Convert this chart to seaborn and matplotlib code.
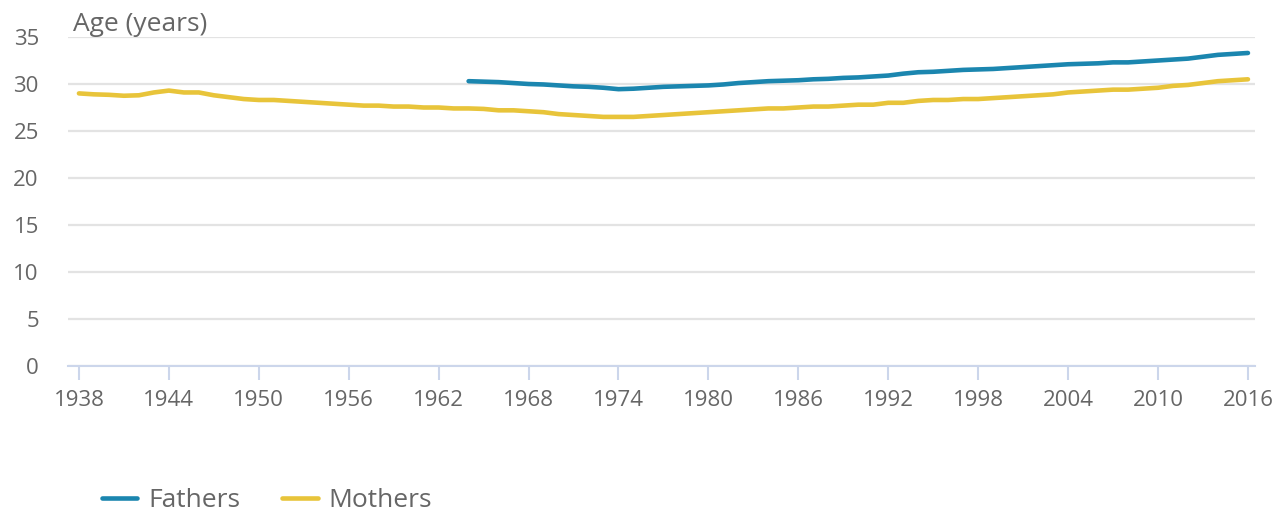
import numpy as np
import pandas as pd
import matplotlib
matplotlib.use("Agg")
import matplotlib.pyplot as plt
import seaborn as sns

# ── Data ─────────────────────────────────────────────────────────────────────
MOTHER_YEARS = list(range(1938, 2017))
MOTHER_AGE = [
    29.0, 28.9, 28.85, 28.75, 28.8, 29.1, 29.3, 29.1, 29.1, 28.8,   # 1938-47
    28.6, 28.4, 28.3, 28.3, 28.2, 28.1, 28.0, 27.9, 27.8, 27.7,     # 1948-57
    27.7, 27.6, 27.6, 27.5, 27.5, 27.4, 27.4, 27.35, 27.2, 27.2,    # 1958-67
    27.1, 27.0, 26.8, 26.7, 26.6, 26.5, 26.5, 26.5, 26.6, 26.7,     # 1968-77
    26.8, 26.9, 27.0, 27.1, 27.2, 27.3, 27.4, 27.4, 27.5, 27.6,     # 1978-87
    27.6, 27.7, 27.8, 27.8, 28.0, 28.0, 28.2, 28.3, 28.3, 28.4,     # 1988-97
    28.4, 28.5, 28.6, 28.7, 28.8, 28.9, 29.1, 29.2, 29.3, 29.4,     # 1998-2007
    29.4, 29.5, 29.6, 29.8, 29.9, 30.1, 30.3, 30.4, 30.5,           # 2008-16
]

FATHER_YEARS = list(range(1964, 2017))
FATHER_AGE = [
    30.3, 30.25, 30.2, 30.1, 30.0, 29.95, 29.85, 29.75, 29.7, 29.6,  # 1964-73
    29.45, 29.5, 29.6, 29.7, 29.75, 29.8, 29.85, 29.95, 30.1, 30.2,  # 1974-83
    30.3, 30.35, 30.4, 30.5, 30.55, 30.65, 30.7, 30.8, 30.9, 31.1,   # 1984-93
    31.25, 31.3, 31.4, 31.5, 31.55, 31.6, 31.7, 31.8, 31.9, 32.0,    # 1994-2003
    32.1, 32.15, 32.2, 32.3, 32.3, 32.4, 32.5, 32.6, 32.7, 32.9,     # 2004-13
    33.1, 33.2, 33.3,                                                # 2014-16
]

X_TICKS = list(range(1938, 2017, 6))
Y_TICKS = list(range(0, 36, 5))

# ── Style ────────────────────────────────────────────────────────────────────
sns.set_theme(style="white")
plt.rcParams["font.family"] = ["Open Sans", "DejaVu Sans"]
PALETTE = {"Fathers": "#1b86af", "Mothers": "#e8c43a"}
TEXT = "#666666"

df = pd.concat([
    pd.DataFrame({"Year": FATHER_YEARS, "Age": FATHER_AGE, "Parent": "Fathers"}),
    pd.DataFrame({"Year": MOTHER_YEARS, "Age": MOTHER_AGE, "Parent": "Mothers"}),
])

fig = plt.figure(figsize=(12.84, 5.21), dpi=100)
ax = fig.add_axes([68 / 1284, 1 - 366 / 521, (1255 - 68) / 1284, (366 - 37) / 521])

sns.lineplot(data=df, x="Year", y="Age", hue="Parent", palette=PALETTE,
             linewidth=3.3, ax=ax, legend=False)

ax.set_xlim(1937.27, 2016.47)
ax.set_ylim(0, 35)
ax.set_xticks(X_TICKS)
ax.set_yticks(Y_TICKS)
ax.set_xlabel("")
ax.set_ylabel("")

ax.grid(axis="y", color="#e3e3e3", linewidth=1.6)
ax.set_axisbelow(True)
for side in ["top", "right", "left"]:
    ax.spines[side].set_visible(False)
ax.spines["bottom"].set_color("#ccd6eb")
ax.spines["bottom"].set_linewidth(1.5)

ax.tick_params(axis="x", length=10, width=1.5, color="#ccd6eb",
               labelsize=16, labelcolor=TEXT, pad=7, bottom=True)
ax.tick_params(axis="y", length=0, labelsize=16, labelcolor=TEXT, pad=21)

fig.text(73 / 1284, 1 - 31 / 521, "Age (years)", fontsize=19, color=TEXT,
         ha="left", va="baseline")

handles = [plt.Line2D([], [], color=PALETTE[k], linewidth=3.3) for k in PALETTE]
fig.legend(handles, list(PALETTE), loc="lower left",
           bbox_to_anchor=(78 / 1284, -0.03), ncol=2, frameon=False,
           fontsize=19, labelcolor=TEXT, handlelength=1.35,
           handletextpad=0.4, columnspacing=1.6)

fig.savefig("out.png", dpi=100)
